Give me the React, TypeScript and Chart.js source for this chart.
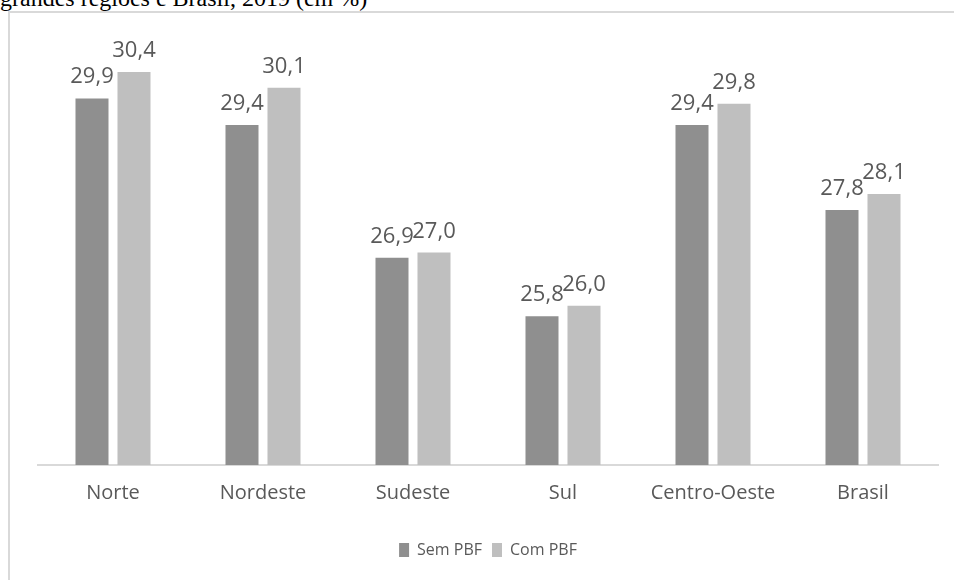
import React, { useEffect, useRef } from "react";
import { Chart, registerables } from "chart.js";

Chart.register(...registerables);

const categories = ["Norte", "Nordeste", "Sudeste", "Sul", "Centro-Oeste", "Brasil"];
const semPBF = [29.9, 29.4, 26.9, 25.8, 29.4, 27.8];
const comPBF = [30.4, 30.1, 27.0, 26.0, 29.8, 28.1];
const seriesNames = ["Sem PBF", "Com PBF"];
const titleText = "grandes regiões e Brasil, 2019 (em %)";

const FONT = "'Open Sans', 'Noto Sans', sans-serif";
const TEXT = "#595959";

const valueLabels = {
  id: "valueLabels",
  afterDatasetsDraw(chart: any) {
    const ctx = chart.ctx;
    ctx.save();
    ctx.fillStyle = TEXT;
    ctx.font = `22px ${FONT}`;
    ctx.textAlign = "center";
    ctx.textBaseline = "alphabetic";
    chart.data.datasets.forEach((ds: any, di: number) => {
      const meta = chart.getDatasetMeta(di);
      meta.data.forEach((bar: any, i: number) => {
        const v = ds.data[i] as number;
        const txt = v.toFixed(1).replace(".", ",");
        ctx.fillText(txt, bar.x, bar.y - 15);
      });
    });
    ctx.restore();
  },
};

export default function App() {
  const ref = useRef<HTMLCanvasElement>(null);
  useEffect(() => {
    if (!ref.current) return;
    const chart = new Chart(ref.current, {
      type: "bar",
      data: {
        labels: categories,
        datasets: [
          {
            label: seriesNames[0],
            data: semPBF,
            backgroundColor: "#8f8f8f",
            categoryPercentage: 0.56,
            barPercentage: 0.786,
          },
          {
            label: seriesNames[1],
            data: comPBF,
            backgroundColor: "#bfbfbf",
            categoryPercentage: 0.56,
            barPercentage: 0.786,
          },
        ],
      },
      options: {
        animation: false,
        responsive: false,
        maintainAspectRatio: false,
        layout: { padding: { left: 38, right: 16, top: 40, bottom: 12 } },
        scales: {
          x: {
            grid: { display: false, drawTicks: false },
            border: { display: true, color: "#d9d9d9", width: 2 },
            ticks: { color: TEXT, font: { family: FONT, size: 20 }, padding: 16 },
            afterFit: (scale: any) => {
              scale.height += 11;
            },
          },
          y: {
            display: false,
            min: 23,
            max: 31,
          },
        },
        plugins: {
          legend: {
            position: "bottom",
            labels: {
              color: TEXT,
              font: { family: FONT, size: 16 },
              boxWidth: 10,
              boxHeight: 14,
              padding: 10,
            },
          },
          tooltip: { enabled: false },
        },
      },
      plugins: [valueLabels],
    });
    return () => chart.destroy();
  }, []);

  return (
    <div
      style={{
        position: "fixed",
        left: 0,
        top: 0,
        width: 954,
        height: 580,
        overflow: "hidden",
        background: "#ffffff",
      }}
    >
      <div
        style={{
          position: "absolute",
          left: 0,
          top: -14,
          fontFamily: "'Liberation Serif', 'DejaVu Serif', serif",
          fontSize: 24,
          lineHeight: "24px",
          whiteSpace: "nowrap",
          color: "#000",
        }}
      >
        {titleText}
      </div>
      <canvas
        ref={ref}
        width={954}
        height={580}
        style={{ position: "absolute", left: 0, top: 0, width: 954, height: 580 }}
      />
      <div
        style={{
          position: "absolute",
          left: 8,
          top: 11,
          width: 1000,
          height: 1000,
          borderLeft: "2px solid #d9d9d9",
          borderTop: "2px solid #d9d9d9",
          pointerEvents: "none",
        }}
      />
    </div>
  );
}
